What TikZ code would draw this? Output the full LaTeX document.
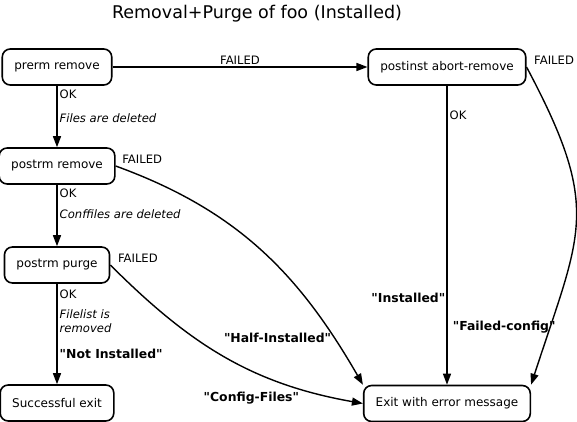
\documentclass[tikz,border=0pt]{standalone}
\usepackage{fontspec}
\setmainfont[Ligatures=TeXOff]{DejaVu Sans}
\usetikzlibrary{arrows.meta}
\tikzset{% looks of the states and the transitions
        state/.style={draw, line width=1.6pt, rounded corners=8pt, inner xsep=12pt,
          minimum height=36pt, font=\fontsize{12}{14}\selectfont},
        flow/.style={line width=1.4pt, -{Triangle[length=11pt,width=8pt]}},
        lbl/.style={font=\fontsize{11.6}{13.5}\selectfont, inner sep=2pt},
        note/.style={lbl, font=\fontsize{11.6}{13.5}\selectfont\itshape},
        status/.style={lbl, font=\fontsize{12.4}{14}\selectfont\bfseries}
        }

\begin{document}
\begin{tikzpicture}[x=1pt,y=1pt]
\useasboundingbox (0,0) rectangle (577,422);
\node [font=\fontsize{17.5}{20}\selectfont] (title) at (257,408) {Removal+Purge of foo (Installed)};
\node [state] (prerm) at (57,355) {prerm remove};
\node [state] (postrm) at (57,256) {postrm remove};
\node [state] (purge) at (57,157) {postrm purge};
\node [state] (success) at (57,19) {Successful exit};
\node [state] (abort) at (447,355) {postinst abort-remove};
\node [state] (error) at (447,18.5) {Exit with error message};
\draw [flow] (prerm) -- node[lbl, above] {FAILED} (abort);
\draw [flow] (prerm) -- node[lbl, pos=.14, right] {OK}
  node[note, pos=.52, right] {Files are deleted} (postrm);
\draw [flow] (postrm) -- node[lbl, pos=.13, right] {OK}
  node[note, pos=.48, right] {Conffiles are deleted} (purge);
\draw [flow] (purge) -- node[lbl, pos=.1, right] {OK}
  node[note, pos=.37, right, align=left] {Filelist is\\removed}
  node[status, pos=.7, right] {"Not Installed"} (success);
\draw [flow] (abort) -- node[lbl, pos=.1, right] {OK}
  node[status, pos=.71, left, inner sep=1pt] {"Installed"} (error);
\draw [flow] (postrm.east) to[out=-20, in=120]
  node[lbl, pos=0, anchor=south west, xshift=4pt] {FAILED}
  node[status, pos=.85, left] {"Half-Installed"} (error.north west);
\draw [flow] (purge.east) to[out=-45, in=170]
  node[lbl, pos=0, anchor=south west, xshift=5pt] {FAILED}
  node[status, pos=.8, anchor=north east] {"Config-Files"} (error.west);
\draw [flow] (abort.east) to[out=-62, in=72, looseness=1.3]
  node[lbl, pos=0, anchor=south west, xshift=5pt] {FAILED}
  node[status, pos=.86, left, xshift=8pt] {"Failed-config"} (error.north east);
\end{tikzpicture}
\end{document}
